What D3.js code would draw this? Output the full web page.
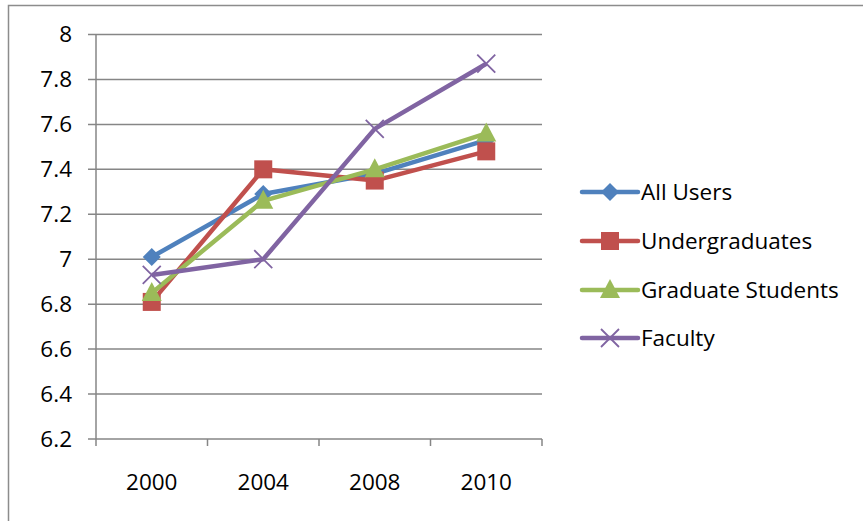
<!DOCTYPE html>
<html><head><meta charset="utf-8">
<script src="https://cdn.jsdelivr.net/npm/d3@7"></script>
<style>body{margin:0;background:#fff}svg{display:block}text{font-family:"Open Sans",sans-serif;fill:#000}</style>
</head><body><svg id="c" width="863" height="521"></svg>
<script>
const years = ["2000","2004","2008","2010"];
const yTicks = [6.2,6.4,6.6,6.8,7,7.2,7.4,7.6,7.8,8];
const seriesNames = ["All Users","Undergraduates","Graduate Students","Faculty"];
const allUsers = [7.01,7.29,7.38,7.53];
const undergraduates = [6.81,7.40,7.35,7.48];
const graduateStudents = [6.85,7.26,7.40,7.56];
const faculty = [6.93,7.00,7.58,7.87];
const colors = ["#4F81BD","#C0504D","#9BBB59","#8064A2"];
const markers = ["diamond","square","triangle","x"];

(function(){
const svg = d3.select("#c");
svg.append("rect").attr("x",8.5).attr("y",5.5).attr("width",900).attr("height",600)
  .attr("fill","#fff").attr("stroke","#8c8c8c").attr("stroke-width",1.5);

const pL=96, pR=542, pT=34.5, pB=439;
const fs = 22.5;
const x = d3.scaleBand().domain(years).range([pL,pR]);
const y = d3.scaleLinear().domain([6.2,8]).range([pB,pT]);

svg.append("g").selectAll("line").data(yTicks).join("line")
  .attr("x1",pL-8).attr("x2",pR).attr("y1",d=>y(d)).attr("y2",d=>y(d))
  .attr("stroke","#868686").attr("stroke-width",1.5);
svg.append("g").selectAll("text").data(yTicks).join("text")
  .attr("x",72).attr("y",d=>y(d)).attr("dy","0.35em").attr("text-anchor","end")
  .attr("font-size",fs).text(d=>d3.format("")(d));
svg.append("line").attr("x1",pL).attr("x2",pL).attr("y1",pT).attr("y2",pB)
  .attr("stroke","#868686").attr("stroke-width",1.5);
const xb = [...years.map(d=>x(d)), pR];
svg.append("g").selectAll("line").data(xb).join("line")
  .attr("x1",d=>d).attr("x2",d=>d).attr("y1",pB).attr("y2",pB+7)
  .attr("stroke","#868686").attr("stroke-width",1.5);
svg.append("g").selectAll("text").data(years).join("text")
  .attr("x",d=>x(d)+x.bandwidth()/2).attr("y",490).attr("text-anchor","middle")
  .attr("font-size",fs).text(d=>d);

const data = [allUsers,undergraduates,graduateStudents,faculty];
const line = d3.line().x((d,i)=>x(years[i])+x.bandwidth()/2).y(d=>y(d));

function drawMarker(g, type, cx, cy, color){
  if(type==="diamond"){
    g.append("path").attr("d",`M${cx},${cy-9}L${cx+9},${cy}L${cx},${cy+9}L${cx-9},${cy}Z`).attr("fill",color);
  } else if(type==="square"){
    g.append("rect").attr("x",cx-9).attr("y",cy-9).attr("width",18).attr("height",18).attr("fill",color);
  } else if(type==="triangle"){
    g.append("path").attr("d",`M${cx},${cy-11}L${cx+10},${cy+8}L${cx-10},${cy+8}Z`).attr("fill",color);
  } else {
    g.append("path").attr("d",`M${cx-9},${cy-9}L${cx+9},${cy+9}M${cx+9},${cy-9}L${cx-9},${cy+9}`)
      .attr("stroke",color).attr("stroke-width",1.8).attr("fill","none");
  }
}

data.forEach((vals,si)=>{
  const g = svg.append("g");
  g.append("path").datum(vals).attr("d",line).attr("fill","none")
    .attr("stroke",colors[si]).attr("stroke-width",4.5).attr("stroke-linejoin","round");
  vals.forEach((v,i)=>drawMarker(g, markers[si], x(years[i])+x.bandwidth()/2, y(v), colors[si]));
});

const legY = [192,241,290,338];
seriesNames.forEach((n,i)=>{
  const g = svg.append("g");
  g.append("line").attr("x1",582).attr("x2",638).attr("y1",legY[i]).attr("y2",legY[i])
    .attr("stroke",colors[i]).attr("stroke-width",4.5).attr("stroke-linecap","round");
  drawMarker(g, markers[i], 610, legY[i], colors[i]);
  g.append("text").attr("x",641).attr("y",legY[i]).attr("dy","0.35em").attr("font-size",fs).text(n);
});
})();
</script></body></html>
